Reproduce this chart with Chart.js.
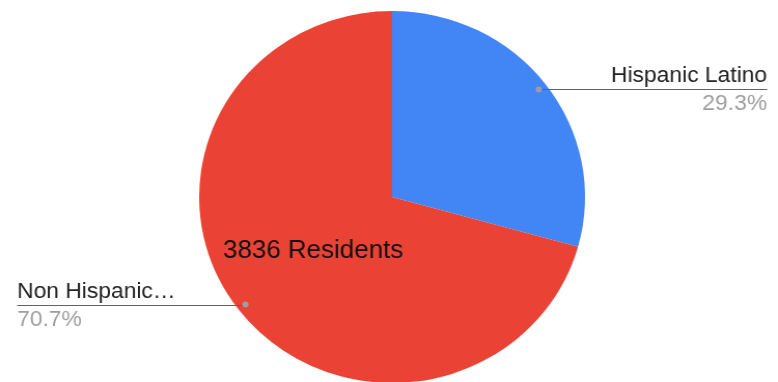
<!DOCTYPE html>
<html>
    <head>
        <meta charset="utf-8">
        <title>Residents</title>
        <script src="https://cdn.jsdelivr.net/npm/chart.js"></script>
        <style>
            html, body { margin: 0; padding: 0; background: #fff; overflow: hidden; }
            #wrap { width: 750px; height: 400px; transform: scaleX(1.0373); transform-origin: 0 0; }
        </style>
    </head>
    <body>
        <div id="wrap">
            <canvas id="residentsChart" width="750" height="400"></canvas>
        </div>

    <script>
        var labels = ['Hispanic Latino', 'Non Hispanic…'];
        var residents = [1124, 2712];
        var colors = ['#4285f4', '#ea4335'];
        var title = '3836 Residents';

        var total = residents.reduce((a, b) => a + b, 0);

        // leader lines with label + percentage, Google style
        var pieLabels = {
            id: 'pieLabels',
            afterDatasetsDraw(chart) {
                var ctx = chart.ctx;
                var arcs = chart.getDatasetMeta(0).data;
                ctx.save();
                arcs.forEach(function (arc, i) {
                    var mid = (arc.startAngle + arc.endAngle) / 2;
                    var r = arc.outerRadius * 0.955;
                    var dx = arc.x + Math.cos(mid) * r;
                    var dy = arc.y + Math.sin(mid) * r;
                    var right = Math.cos(mid) > 0;
                    var endX = right ? 739.5 : 16.5;

                    ctx.strokeStyle = '#636363';
                    ctx.lineWidth = 1;
                    ctx.beginPath();
                    ctx.moveTo(dx, Math.round(dy) + 0.5);
                    ctx.lineTo(endX, Math.round(dy) + 0.5);
                    ctx.stroke();

                    ctx.fillStyle = '#9e9e9e';
                    ctx.beginPath();
                    ctx.arc(dx, dy, 3, 0, Math.PI * 2);
                    ctx.fill();

                    ctx.textAlign = right ? 'right' : 'left';
                    ctx.font = '22px "Liberation Sans", Arial, sans-serif';
                    ctx.fillStyle = '#222222';
                    ctx.fillText(labels[i], endX, Math.round(dy) - 7);
                    ctx.fillStyle = '#9e9e9e';
                    ctx.fillText((residents[i] / total * 100).toFixed(1) + '%', endX, Math.round(dy) + 21);
                });

                ctx.textAlign = 'left';
                ctx.font = '25px "Liberation Sans", Arial, sans-serif';
                ctx.fillStyle = '#111111';
                ctx.fillText(title, 215, 258);
                ctx.restore();
            }
        };

        var ctx = document.getElementById('residentsChart').getContext('2d');
        var residentsChart = new Chart(ctx, {
            type: 'pie',
            data: {
                labels: labels,
                datasets: [{
                    data: residents,
                    backgroundColor: colors,
                    borderWidth: 0
                }]
            },
            options: {
                responsive: false,
                animation: false,
                layout: {
                    padding: { left: 192, right: 186, top: 11, bottom: 17 }
                },
                plugins: {
                    legend: { display: false },
                    tooltip: { enabled: false }
                }
            },
            plugins: [pieLabels]
        });
    </script>
    </body>
</html>
